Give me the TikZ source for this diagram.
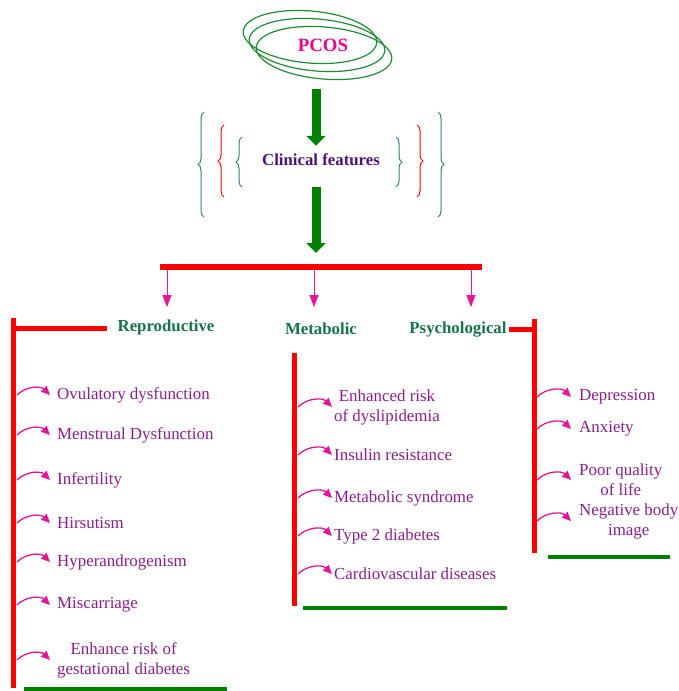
\documentclass[tikz,border=0pt]{standalone}
\usepackage{fontspec}
\setmainfont{Liberation Serif}
\usetikzlibrary{arrows.meta,decorations.pathreplacing}
\definecolor{itemc}{RGB}{140,30,140}
\definecolor{headc}{RGB}{20,115,75}
\definecolor{cfc}{RGB}{75,20,120}
\definecolor{tealc}{RGB}{40,130,130}
\definecolor{pinkc}{RGB}{230,20,150}
\definecolor{darkg}{RGB}{0,128,0}
\definecolor{ringc}{RGB}{30,140,50}
\begin{document}
\begin{tikzpicture}[x=1pt,y=-1pt,
	item/.style={text=itemc,font=\fontsize{16.9}{20}\selectfont,anchor=west,align=center,inner sep=0pt},
	head/.style={text=headc,font=\fontsize{16.8}{20}\selectfont\bfseries,inner sep=0pt},
	bent/.style={pinkc,line width=1.3pt,-{Triangle[length=9pt,width=8pt]},bend left=45},
	droparrow/.style={pinkc,line width=1pt,-{Triangle[length=12pt,width=9pt]}},
	bigarrow/.style={darkg,line width=9pt,-{Triangle[length=10pt,width=19pt]}},
	redline/.style={red,line width=5pt},
	greenline/.style={darkg,line width=4pt},
	ring/.style={ringc,line width=1.2pt},
	curly/.style={decorate,decoration={brace,amplitude=6pt},line width=1pt}]
	\useasboundingbox (0,0) rectangle (678,691);
	\node[text=magenta,font=\fontsize{18.8}{21}\selectfont\bfseries,inner sep=0pt] (pcos) at (323,45) {PCOS};
	\draw[ring,rotate around={-5:(310,37)}] (310,37) ellipse[x radius=67,y radius=26];
	\draw[ring,rotate around={-5:(317,45)}] (317,45) ellipse[x radius=68,y radius=26];
	\draw[ring,rotate around={-5:(324,53)}] (324,53) ellipse[x radius=68,y radius=26];
	\node[text=cfc,font=\fontsize{16.8}{20}\selectfont\bfseries,inner sep=0pt] (cf) at (321,160) {Clinical features};
	\draw[curly,tealc] (242,187) -- (242,137);
	\draw[curly,tealc] (396,137) -- (396,187);
	\draw[curly,red] (224,197) -- (224,125);
	\draw[curly,red] (417,125) -- (417,197);
	\draw[curly,tealc] (204,217) -- (204,112);
	\draw[curly,tealc] (438,112) -- (438,217);
	\coordinate (spine) at (316,0);
	\coordinate (bl) at (160,267);
	\coordinate (br) at (482,267);
	\draw[bigarrow,shorten <=37pt,shorten >=8pt] (pcos.south -| spine) -- (cf.north -| spine);
	\draw[bigarrow,shorten <=21pt,shorten >=14pt] (cf.south -| spine) -- (bl -| spine);
	\foreach \x/\n in {167/1,314/2,471/3}{
		\coordinate (d\n) at (\x,307);
		\draw[droparrow] (bl -| d\n) -- (d\n);
	}
	\draw[red,line width=6pt] (bl) -- (br);
	\node[head] (rep) at (166,327) {Reproductive};
	\node[head] (met) at (321,329) {Metabolic};
	\node[head] (psy) at (458,330) {Psychological};
	\draw[redline] (107,328) -- (13,328);
	\draw[redline] (13,318) -- (13,688);
	\draw[redline] (294,353) -- (294,606);
	\draw[redline] (509,329) -- (534,329);
	\draw[redline] (534,319) -- (534,553);
	\draw[greenline] (24,689) -- (227,689);
	\draw[greenline] (303,608) -- (507,608);
	\draw[greenline] (548,557) -- (670,557);
	\coordinate (rl) at (17,0);
	\coordinate (rt) at (50,0);
	\foreach[count=\i] \y/\txt in {395/Ovulatory dysfunction,435/Menstrual Dysfunction,480/Infertility,523/Hirsutism,562/Hyperandrogenism,605/Miscarriage,660/{Enhance risk of\\gestational diabetes}}{
		\node[item] (r\i) at (57,\y) {\txt};
		\draw[bent] (rl |- r\i.west) to (rt |- r\i.west);
	}
	\coordinate (ml) at (298,0);
	\coordinate (mt) at (332,0);
	\foreach[count=\i] \y/\txt in {407/{Enhanced risk\\of dyslipidemia},455/Insulin resistance,498/Metabolic syndrome,536/Type 2 diabetes,574/Cardiovascular diseases}{
		\node[item] (m\i) at (334,\y) {\txt};
		\draw[bent] (ml |- m\i.west) to (mt |- m\i.west);
	}
	\coordinate (pl) at (537,0);
	\coordinate (pt) at (571,0);
	\foreach[count=\i] \y/\txt in {397/Depression,429/Anxiety,480/{Poor quality\\of life},521/{Negative body\\image}}{
		\node[item] (p\i) at (579,\y) {\txt};
		\draw[bent] (pl |- p\i.west) to (pt |- p\i.west);
	}
\end{tikzpicture}
\end{document}
